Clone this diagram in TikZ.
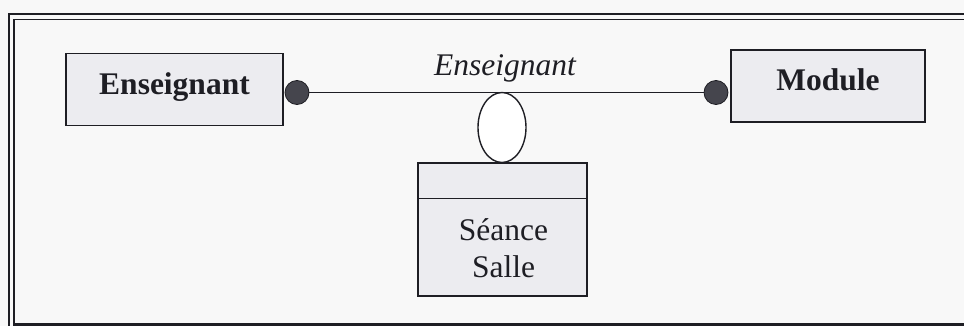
\documentclass[tikz,border=0pt]{standalone}
\usepackage{fontspec}
\setmainfont{Liberation Serif}
\usetikzlibrary{shapes.geometric}
\definecolor{boxfill}{HTML}{ECECF0}
\definecolor{ink}{HTML}{1E1E24}
\definecolor{dotfill}{HTML}{45454D}
\definecolor{bg}{HTML}{F8F8F8}
\tikzset{
  bigfont/.style={font=\fontsize{31.5}{37}\selectfont},
  entity/.style={draw=ink, line width=1.6pt, fill=boxfill, minimum height=72pt, inner sep=0pt},
  entitytext/.style={font=\fontsize{31.5}{37}\selectfont\bfseries, text=ink, anchor=base, inner sep=0pt},
  enddot/.style={circle, draw=ink, line width=0.8pt, fill=dotfill, minimum size=24pt, inner sep=0pt},
  link/.style={draw=ink, line width=1.4pt},
  framelinea/.style={draw=ink, line width=2pt},
  framelineb/.style={draw=ink, line width=1.6pt},
  frameline/.style={draw=ink, line width=2.6pt},
}
\begin{document}
\begin{tikzpicture}[x=1pt,y=-1pt]
  \useasboundingbox (0,0) rectangle (964,326);
  \fill[bg] (0,0) rectangle (964,326);
  % frame
  \draw[framelinea] (8.5,330) -- (8.5,14) -- (970,14);
  \draw[framelineb] (14,330) -- (14,19.5) -- (970,19.5);
  \draw[frameline] (14,324.5) -- (970,324.5);
  % entities
  \node[entity, minimum width=217pt] (ens) at (174.5,89.5) {};
  \node[entitytext] (enstxt) at (174.5,95) {Enseignant};
  \node[entity, minimum width=194pt] (mod) at (828,86) {};
  \node[entitytext] (modtxt) at (828,91) {Module};
  % dots and link
  \node[enddot] (ldot) at (297,92.5) {};
  \node[enddot] (rdot) at (716,92.5) {};
  \draw[link] (ldot) -- (rdot);
  \node[font=\fontsize{31.5}{37}\selectfont\itshape, text=ink, anchor=base, inner sep=0pt] (lbl) at (505,76) {Enseignant};
  % association
  \node[ellipse, draw=ink, line width=1.4pt, fill=white, minimum width=48pt, minimum height=70pt, inner sep=0pt] (oval) at (502,127.5) {};
  \node[draw=ink, line width=1.6pt, fill=boxfill, minimum width=169pt, minimum height=133pt, inner sep=0pt] (seance) at (502.5,229.5) {};
  \draw[draw=ink, line width=1.4pt] ([yshift=-36pt]seance.north west) -- ([yshift=-36pt]seance.north east);
  \node[bigfont, text=ink, anchor=base, inner sep=0pt] (attr1) at (503.5,240) {Séance};
  \node[bigfont, text=ink, anchor=base, inner sep=0pt] (attr2) at (503.5,277) {Salle};
\end{tikzpicture}
\end{document}
